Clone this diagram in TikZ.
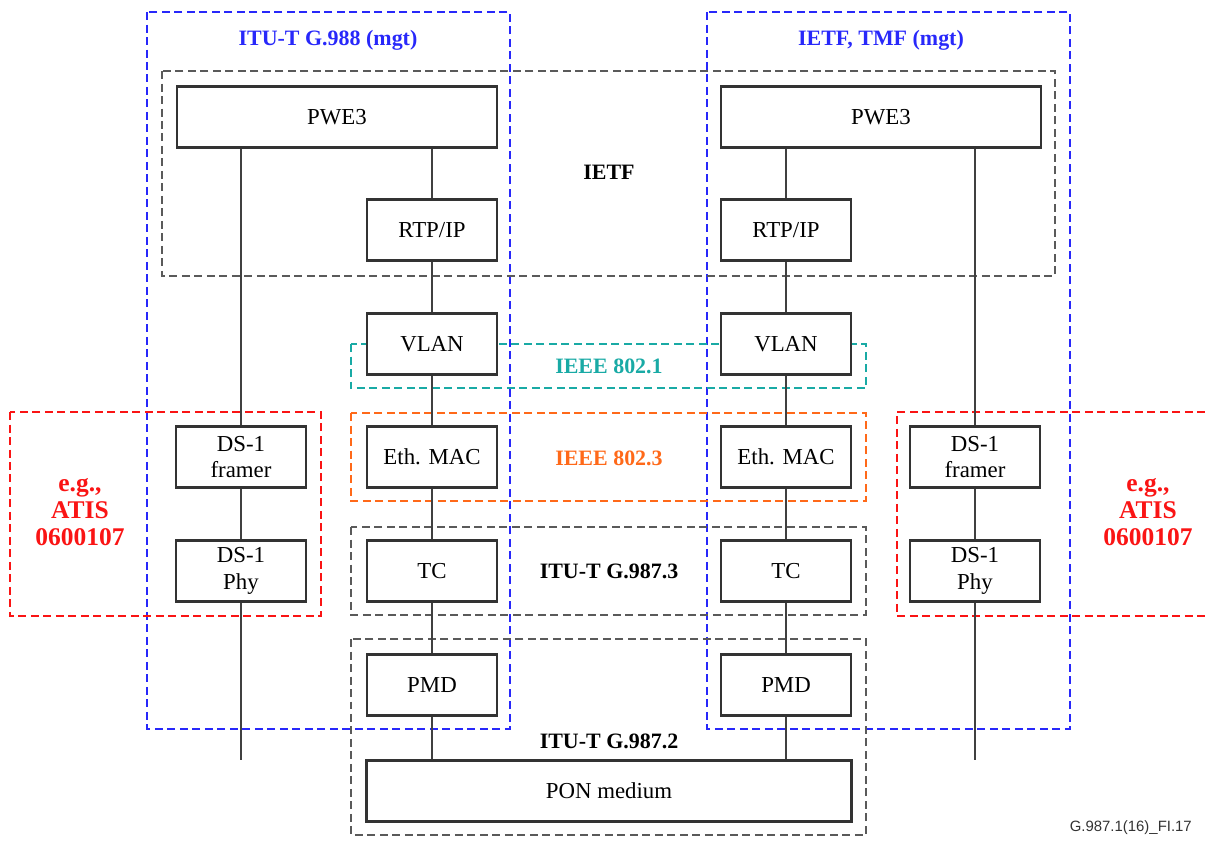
\documentclass[tikz,border=0pt]{standalone}
\usepackage{fontspec}
\setmainfont{Liberation Serif}
\setsansfont{Liberation Sans}
\definecolor{mgtblue}{RGB}{40,40,250}
\definecolor{stdgray}{RGB}{90,90,90}
\definecolor{ieeeteal}{RGB}{25,170,165}
\definecolor{ieeeorange}{RGB}{255,105,25}
\definecolor{atisred}{RGB}{250,20,20}
\tikzset{
  blk/.style={draw=black!80, line width=1.2pt, fill=white, minimum width=2.6cm,
    minimum height=1.22cm, inner sep=0pt, align=center,
    font=\fontsize{13}{15}\selectfont},
  link/.style={draw=black!75, line width=0.9pt},
  area/.style={dashed, dash pattern=on 0.16cm off 0.09cm, line width=0.9pt},
  tag/.style={font=\fontsize{12.5}{15}\selectfont\bfseries},
  atis/.style={atisred, align=center, font=\fontsize{14.5}{15.5}\selectfont\bfseries},
}
\begin{document}
\begin{tikzpicture}[x=0.02cm, y=-0.02cm]
\useasboundingbox (0,0) rectangle (1205,840);
% standard areas
\draw[area, mgtblue] (147,12) rectangle (510,729);
\draw[area, mgtblue] (707,12) rectangle (1070,729);
\draw[area, stdgray] (162,71) rectangle (1055,276);
\draw[area, ieeeteal] (351,344) rectangle (866,388);
\draw[area, ieeeorange] (351,413) rectangle (866,501);
\draw[area, stdgray] (351,527) rectangle (866,615);
\draw[area, stdgray] (351,639) rectangle (866,835);
\draw[area, atisred] (10,412) rectangle (321,616);
\draw[area, atisred] (1205,412) -- (897,412) -- (897,616) -- (1205,616);
% area labels
\node[tag, mgtblue] (g988) at (328,40) {ITU-T G.988 (mgt)};
\node[tag, mgtblue] (tmf) at (881,40) {IETF, TMF (mgt)};
\node[tag] (ietf) at (609,172) {IETF};
\node[tag, ieeeteal] (i8021) at (609,366) {IEEE 802.1};
\node[tag, ieeeorange] (i8023) at (609,458) {IEEE 802.3};
\node[tag] (g9873) at (609,571) {ITU-T G.987.3};
\node[tag] (g9872) at (609,741) {ITU-T G.987.2};
\node[atis] (atisL) at (80,512) {e.g.,\\ATIS\\0600107};
\node[atis] (atisR) at (1148,512) {e.g.,\\ATIS\\0600107};
% blocks
\node[blk, minimum width=6.4cm] (Lpwe) at (337,117) {PWE3};
\node[blk, minimum width=6.4cm] (Rpwe) at (881,117) {PWE3};
\node[blk] (Lrtp) at (432,230) {RTP/IP};
\node[blk] (Rrtp) at (786,230) {RTP/IP};
\foreach \n/\t/\y in {vlan/VLAN/344, mac/Eth. MAC/457, tc/TC/571, pmd/PMD/685}{
  \node[blk] (L\n) at (432,\y) {\t};
  \node[blk] (R\n) at (786,\y) {\t};
}
\node[blk] (Lfrm) at (241,457) {DS-1\\framer};
\node[blk] (Lphy) at (241,571) {DS-1\\Phy};
\node[blk] (Rfrm) at (975,457) {DS-1\\framer};
\node[blk] (Rphy) at (975,571) {DS-1\\Phy};
\node[blk, minimum width=9.7cm] (pon) at (609,791) {PON medium};
\coordinate (Lend) at (241,760);
\coordinate (Rend) at (975,760);
% connections
\draw[link] (Lpwe.south -| Lrtp.north) -- (Lrtp);
\draw[link] (Rpwe.south -| Rrtp.north) -- (Rrtp);
\foreach \a/\b in {rtp/vlan, vlan/mac, mac/tc, tc/pmd}{
  \draw[link] (L\a) -- (L\b);
  \draw[link] (R\a) -- (R\b);
}
\draw[link] (Lpmd) -- (Lpmd |- pon.north);
\draw[link] (Rpmd) -- (Rpmd |- pon.north);
\draw[link] (Lpwe.south -| Lfrm.north) -- (Lfrm) -- (Lphy) -- (Lend);
\draw[link] (Rpwe.south -| Rfrm.north) -- (Rfrm) -- (Rphy) -- (Rend);
\node[anchor=east, font=\sffamily\fontsize{8.5}{10}\selectfont, text=black!80] (fig) at (1198,828) {G.987.1(16)\_FI.17};
\end{tikzpicture}
\end{document}
